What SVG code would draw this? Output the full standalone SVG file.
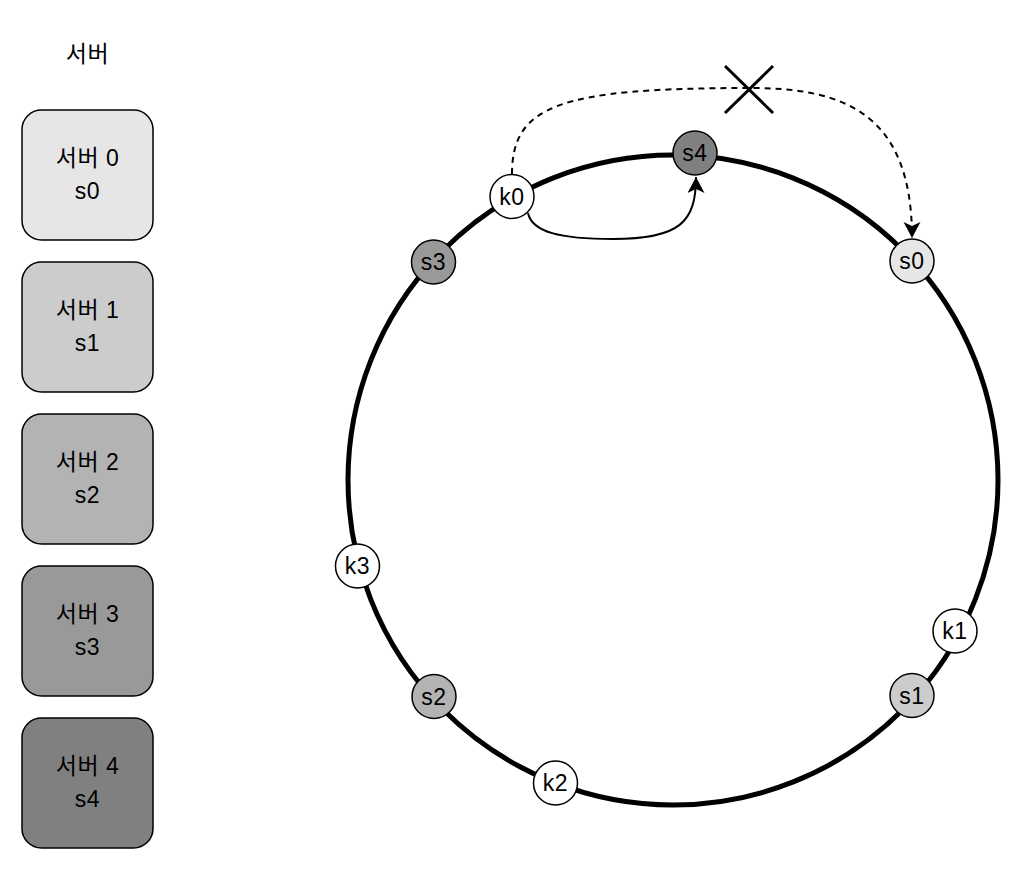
<svg xmlns="http://www.w3.org/2000/svg" width="1024" height="872" viewBox="0 0 1024 872">
<style>
  text { font-family: 'Liberation Sans', 'Noto Sans CJK KR', sans-serif; fill: #000; text-anchor: middle; }
  .lbl { font-size: 23px; letter-spacing: 0.5px; }
  .box { stroke: #000; stroke-width: 1.5; }
  .node { stroke: #000; stroke-width: 1.5; }
  .k { fill: #ffffff; }
  .c0 { fill: #e6e6e6; }
  .c1 { fill: #cccccc; }
  .c2 { fill: #b3b3b3; }
  .c3 { fill: #999999; }
  .c4 { fill: #808080; }
  .conn { fill: none; stroke: #000; stroke-width: 2; }
</style>
<defs>
  <marker id="arrow" markerUnits="userSpaceOnUse" markerWidth="18" markerHeight="18" refX="16" refY="8.5" orient="auto">
    <path d="M0,0 L16,8.5 L0,17 L4,8.5 Z" fill="#000"/>
  </marker>
</defs>
<rect width="1024" height="872" fill="#ffffff"/>

<g id="title">
  <text class="lbl" x="87.5" y="62">서버</text>
</g>

<g id="server0">
  <rect class="box c0" x="22" y="110" width="131" height="130" rx="19.5"/>
  <text class="lbl" x="87.5" y="166">서버 0</text>
  <text class="lbl" x="87.5" y="199">s0</text>
</g>
<g id="server1">
  <rect class="box c1" x="22" y="262" width="131" height="130" rx="19.5"/>
  <text class="lbl" x="87.5" y="318">서버 1</text>
  <text class="lbl" x="87.5" y="351">s1</text>
</g>
<g id="server2">
  <rect class="box c2" x="22" y="414" width="131" height="130" rx="19.5"/>
  <text class="lbl" x="87.5" y="470">서버 2</text>
  <text class="lbl" x="87.5" y="503">s2</text>
</g>
<g id="server3">
  <rect class="box c3" x="22" y="566" width="131" height="130" rx="19.5"/>
  <text class="lbl" x="87.5" y="622">서버 3</text>
  <text class="lbl" x="87.5" y="655">s3</text>
</g>
<g id="server4">
  <rect class="box c4" x="22" y="718" width="131" height="130" rx="19.5"/>
  <text class="lbl" x="87.5" y="774">서버 4</text>
  <text class="lbl" x="87.5" y="807">s4</text>
</g>

<g id="ring">
  <circle cx="673" cy="480" r="325" fill="none" stroke="#000" stroke-width="5"/>
</g>

<g id="connectors">
  <path class="conn" d="M 528 213 C 532 232, 560 239, 613 239 C 680 239, 696 222, 696 177" marker-end="url(#arrow)"/>
  <path class="conn" stroke-dasharray="6 5" d="M 512 174 C 512 105, 560 88, 750 88 C 840 88, 912 110, 912 238" marker-end="url(#arrow)"/>
  <g id="cross">
    <line x1="725" y1="66" x2="773" y2="113" stroke="#000" stroke-width="3"/>
    <line x1="773" y1="66" x2="725" y2="113" stroke="#000" stroke-width="3"/>
  </g>
</g>

<g id="node-s4">
  <circle class="node c4" cx="695" cy="153" r="22"/>
  <text class="lbl" x="695" y="161">s4</text>
</g>
<g id="node-k0">
  <circle class="node k" cx="512" cy="196.5" r="22"/>
  <text class="lbl" x="512" y="204.5">k0</text>
</g>
<g id="node-s0">
  <circle class="node c0" cx="912" cy="261" r="22"/>
  <text class="lbl" x="912" y="269">s0</text>
</g>
<g id="node-s3">
  <circle class="node c3" cx="433.5" cy="262" r="22"/>
  <text class="lbl" x="433.5" y="270">s3</text>
</g>
<g id="node-k3">
  <circle class="node k" cx="357.5" cy="566" r="22"/>
  <text class="lbl" x="357.5" y="574">k3</text>
</g>
<g id="node-s2">
  <circle class="node c2" cx="434" cy="696.5" r="22"/>
  <text class="lbl" x="434" y="704.5">s2</text>
</g>
<g id="node-k2">
  <circle class="node k" cx="555.5" cy="783" r="22"/>
  <text class="lbl" x="555.5" y="791">k2</text>
</g>
<g id="node-k1">
  <circle class="node k" cx="955" cy="631" r="22"/>
  <text class="lbl" x="955" y="639">k1</text>
</g>
<g id="node-s1">
  <circle class="node c1" cx="912" cy="695.5" r="22"/>
  <text class="lbl" x="912" y="703.5">s1</text>
</g>
</svg>
